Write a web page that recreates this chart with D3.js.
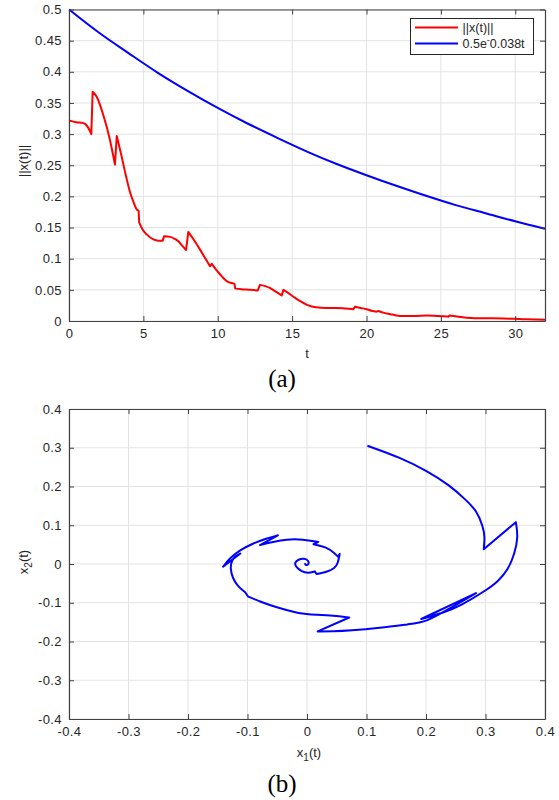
<!DOCTYPE html>
<html>
<head>
<meta charset="utf-8">
<script src="https://cdn.jsdelivr.net/npm/d3@7"></script>
<style>
  body { margin: 0; background: #fff; }
  text { font-family: "Liberation Sans", Arial, sans-serif; }
</style>
</head>
<body>
<div id="chart"></div>
<script>
// ---- data ----
// (a) ||x(t)||, one array per flow piece; pieces are joined by straight jumps
const normSegs = [
  [[0, 0.322], [0.5, 0.319], [0.9, 0.318], [1.1, 0.316], [1.3, 0.310], [1.5, 0.300]],
  [[1.59, 0.368], [1.86, 0.360], [2.3, 0.331], [2.75, 0.291], [3.09, 0.251]],
  [[3.21, 0.297], [3.5, 0.268], [3.8, 0.236], [4.1, 0.207], [4.35, 0.190], [4.55, 0.179], [4.68, 0.177]],
  [[4.72, 0.158], [5.0, 0.145], [5.22, 0.139], [5.67, 0.131], [6.0, 0.129], [6.3, 0.129]],
  [[6.39, 0.136], [6.8, 0.135], [7.1, 0.132], [7.35, 0.128], [7.6, 0.121], [7.87, 0.114]],
  [[8.02, 0.143], [8.4, 0.130], [8.8, 0.115], [9.2, 0.099], [9.48, 0.088]],
  [[9.59, 0.092], [9.9, 0.082], [10.15, 0.075], [10.6, 0.064], [10.9, 0.061], [11.12, 0.060]],
  [[11.18, 0.052], [11.6, 0.051], [12.2, 0.050], [12.69, 0.049]],
  [[12.84, 0.058], [13.2, 0.056], [13.5, 0.053], [13.9, 0.047], [14.3, 0.041]],
  [[14.41, 0.050], [14.8, 0.044], [15.2, 0.037], [15.6, 0.031], [16.0, 0.026], [16.6, 0.022],
   [17.3, 0.021], [18.0, 0.021], [18.6, 0.020], [19.12, 0.019]],
  [[19.23, 0.023], [19.6, 0.021], [20.0, 0.019], [20.4, 0.016], [20.68, 0.015]],
  [[20.8, 0.016], [21.2, 0.013], [21.6, 0.011], [22.0, 0.009], [22.5, 0.008], [23.2, 0.008],
   [24.05, 0.009], [24.8, 0.008], [25.5, 0.007]],
  [[25.6, 0.009], [26.2, 0.007], [27.0, 0.005], [28.0, 0.0045], [29.2, 0.004], [30.5, 0.003], [32, 0.002]]
];
// (a) bound 0.5e^-0.038t, sampled off the plot
const boundT = [0, 2, 4, 6, 8, 10, 12, 14, 16, 18, 20, 22, 24, 26, 28, 30, 32];
const boundV = [0.5, 0.463, 0.430, 0.398, 0.369, 0.342, 0.317, 0.294, 0.272, 0.252,
                0.234, 0.217, 0.201, 0.186, 0.173, 0.160, 0.148];

const legendLabels = ["||x(t)||", "0.5e", "-", "0.038t"];
const tTicks = [0, 5, 10, 15, 20, 25, 30];
const normTicks = [0, 0.05, 0.1, 0.15, 0.2, 0.25, 0.3, 0.35, 0.4, 0.45, 0.5];

// (b) phase portrait (x1, x2), flow pieces joined by jumps
const phaseSegs = [
  [[0.1015, 0.305], [0.156, 0.275], [0.201, 0.241], [0.240, 0.203], [0.268, 0.164],
   [0.285, 0.138], [0.296, 0.096], [0.299, 0.070], [0.297, 0.038]],
  [[0.351, 0.108], [0.355, 0.070], [0.349, 0.027], [0.338, -0.015], [0.321, -0.045],
   [0.302, -0.067], [0.257, -0.109], [0.229, -0.126], [0.192, -0.142]],
  [[0.284, -0.075], [0.242, -0.113], [0.200, -0.150], [0.173, -0.155], [0.122, -0.165],
   [0.072, -0.172], [0.044, -0.174], [0.018, -0.174]],
  [[0.071, -0.138], [0.044, -0.133], [0.016, -0.131], [-0.012, -0.129], [-0.051, -0.112],
   [-0.079, -0.097], [-0.099, -0.084]],
  [[-0.104, -0.073], [-0.116, -0.058], [-0.125, -0.037], [-0.129, -0.011], [-0.127, 0.006],
   [-0.122, 0.019], [-0.112, 0.027]],
  [[-0.141, -0.007], [-0.130, 0.015], [-0.113, 0.036], [-0.091, 0.053], [-0.068, 0.066], [-0.049, 0.074]],
  [[-0.079, 0.049], [-0.057, 0.057], [-0.035, 0.064], [-0.007, 0.064], [0.019, 0.057]],
  [[0.011, 0.051], [0.033, 0.044], [0.047, 0.027], [0.052, 0.019]],
  [[0.055, 0.026], [0.052, 0.002], [0.047, -0.011], [0.033, -0.021], [0.016, -0.026]],
  [[0.013, -0.019], [0.002, -0.024], [-0.009, -0.020], [-0.019, -0.007], [-0.021, 0.003],
   [-0.015, 0.012], [-0.004, 0.015], [0.003, 0.008], [0.003, -0.001], [-0.002, -0.004], [-0.004, 0.002]]
];
const phaseTicks = [-0.4, -0.3, -0.2, -0.1, 0, 0.1, 0.2, 0.3, 0.4];

// ---- layout ----
const W = 559, H = 800;
const gridColor = "#e3e3e3", axisColor = "#404040", textColor = "#262626";
const serif = "'Liberation Serif', 'Times New Roman', serif";

const svg = d3.select("#chart").append("svg")
  .attr("width", W)
  .attr("height", H);

// join flow pieces with straight jump segments
function segPath(segs, line) {
  return segs.map((s, i) => {
    const d = line(s);
    return i ? "L" + d.slice(1) : d;
  }).join("");
}

// light grid behind the data
function drawGrid(g, x, y, xTicks, yTicks) {
  const [x0, x1] = x.range();
  const [y0, y1] = y.range();

  g.append("g").selectAll("line").data(xTicks).join("line")
    .attr("x1", d => x(d)).attr("x2", d => x(d))
    .attr("y1", y1).attr("y2", y0)
    .attr("stroke", gridColor);
  g.append("g").selectAll("line").data(yTicks).join("line")
    .attr("x1", x0).attr("x2", x1)
    .attr("y1", d => y(d)).attr("y2", d => y(d))
    .attr("stroke", gridColor);
}

// MATLAB-like box: inward ticks on all four sides, labels left and bottom
function drawAxes(g, x, y, xTicks, yTicks, fmt) {
  const [x0, x1] = x.range();
  const [y0, y1] = y.range();
  const tk = 5;

  const bottom = g.append("g").attr("transform", `translate(0,${y0})`)
    .call(d3.axisBottom(x).tickValues(xTicks).tickFormat(fmt).tickSizeInner(-tk).tickSizeOuter(0).tickPadding(8));
  const left = g.append("g").attr("transform", `translate(${x0},0)`)
    .call(d3.axisLeft(y).tickValues(yTicks).tickFormat(fmt).tickSizeInner(-tk).tickSizeOuter(0).tickPadding(7));
  const top = g.append("g").attr("transform", `translate(0,${y1})`)
    .call(d3.axisTop(x).tickValues(xTicks).tickFormat("").tickSizeInner(-tk).tickSizeOuter(0));
  const right = g.append("g").attr("transform", `translate(${x1},0)`)
    .call(d3.axisRight(y).tickValues(yTicks).tickFormat("").tickSizeInner(-tk).tickSizeOuter(0));

  [bottom, left, top, right].forEach(a => {
    a.select(".domain").attr("stroke", axisColor).attr("stroke-width", 1.2);
    a.selectAll(".tick line").attr("stroke", axisColor).attr("stroke-width", 1);
    a.selectAll(".tick text")
      .attr("fill", textColor)
      .attr("font-size", 13)
      .attr("letter-spacing", 0.4);
  });
}

const fmtNum = d => String(+d.toFixed(2));

// ---- (a) ----
const xA = d3.scaleLinear().domain([0, 32]).range([69, 545]);
const yA = d3.scaleLinear().domain([0, 0.5]).range([321, 9.5]);
const gA = svg.append("g");

drawGrid(gA, xA, yA, tTicks, normTicks);

const lineA = d3.line().x(d => xA(d[0])).y(d => yA(d[1])).curve(d3.curveMonotoneX);

gA.append("path")
  .attr("d", lineA(boundT.map((t, i) => [t, boundV[i]])))
  .attr("fill", "none")
  .attr("stroke", "#0000ff")
  .attr("stroke-width", 2);

gA.append("path")
  .attr("d", segPath(normSegs, lineA))
  .attr("fill", "none")
  .attr("stroke", "#ff0000")
  .attr("stroke-width", 2)
  .attr("stroke-linejoin", "round");

drawAxes(gA, xA, yA, tTicks, normTicks, fmtNum);

// legend
const leg = gA.append("g").attr("transform", "translate(410.5,18.5)");
leg.append("rect")
  .attr("width", 123).attr("height", 36)
  .attr("fill", "#fff").attr("stroke", textColor).attr("stroke-width", 1);
[["#ff0000", 9], ["#0000ff", 25]].forEach(([c, yy]) => {
  leg.append("line")
    .attr("x1", 4.5).attr("x2", 47.5).attr("y1", yy).attr("y2", yy)
    .attr("stroke", c).attr("stroke-width", 2);
});
leg.append("text")
  .attr("x", 52).attr("y", 13.5)
  .attr("font-size", 12.5).attr("fill", textColor)
  .text(legendLabels[0]);
const lt = leg.append("text")
  .attr("x", 52).attr("y", 29.5)
  .attr("font-size", 12.5).attr("fill", textColor);
lt.append("tspan").text(legendLabels[1]);
lt.append("tspan").attr("dy", -5).attr("font-size", 9).text(legendLabels[2]);
lt.append("tspan").attr("dy", 5).text(legendLabels[3]);

gA.append("text")
  .attr("transform", "translate(28,161) rotate(-90)")
  .attr("text-anchor", "middle")
  .attr("font-size", 13).attr("fill", textColor)
  .text("||x(t)||");
gA.append("text")
  .attr("x", 307).attr("y", 358)
  .attr("text-anchor", "middle")
  .attr("font-size", 13).attr("fill", textColor)
  .text("t");
svg.append("text")
  .attr("x", 282).attr("y", 387)
  .attr("text-anchor", "middle")
  .style("font-family", serif)
  .attr("font-size", 25).attr("fill", "#000")
  .text("(a)");

// ---- (b) ----
const xB = d3.scaleLinear().domain([-0.4, 0.4]).range([69, 545]);
const yB = d3.scaleLinear().domain([-0.4, 0.4]).range([719, 409]);
const gB = svg.append("g");

drawGrid(gB, xB, yB, phaseTicks, phaseTicks);

const lineB = d3.line().x(d => xB(d[0])).y(d => yB(d[1])).curve(d3.curveBasis);

gB.append("path")
  .attr("d", segPath(phaseSegs, lineB))
  .attr("fill", "none")
  .attr("stroke", "#0000ff")
  .attr("stroke-width", 2)
  .attr("stroke-linejoin", "round");

drawAxes(gB, xB, yB, phaseTicks, phaseTicks, d => String(+d.toFixed(1)));

const yl = gB.append("text")
  .attr("transform", "translate(28,562) rotate(-90)")
  .attr("text-anchor", "middle")
  .attr("font-size", 13).attr("fill", textColor);
yl.append("tspan").text("x");
yl.append("tspan").attr("dy", 4).attr("font-size", 10).text("2");
yl.append("tspan").attr("dy", -4).text("(t)");

const xl = gB.append("text")
  .attr("x", 309).attr("y", 757)
  .attr("text-anchor", "middle")
  .attr("font-size", 13).attr("fill", textColor);
xl.append("tspan").text("x");
xl.append("tspan").attr("dy", 4).attr("font-size", 10).text("1");
xl.append("tspan").attr("dy", -4).text("(t)");

svg.append("text")
  .attr("x", 282).attr("y", 792)
  .attr("text-anchor", "middle")
  .style("font-family", serif)
  .attr("font-size", 25).attr("fill", "#000")
  .text("(b)");
</script>
</body>
</html>
